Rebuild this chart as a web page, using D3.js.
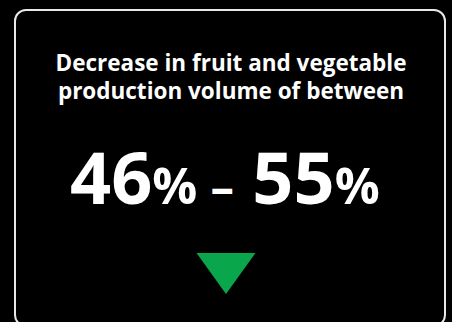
<!DOCTYPE html>
<html><head><meta charset="utf-8">
<script src="https://cdn.jsdelivr.net/npm/d3@7"></script>
<style>html,body{margin:0;padding:0;background:#000;}svg{display:block;}</style>
</head><body>
<script>
const titleLines = ["Decrease in fruit and vegetable", "production volume of between"];
const rangeValues = [46, 55];
const unit = "%";
const direction = ["down"];
const indicatorColor = "#0aa64b";

const W = 452, H = 322;
const svg = d3.select("body").append("svg").attr("width", W).attr("height", H);
svg.append("rect").attr("width", W).attr("height", H).attr("fill", "#000");
svg.append("rect").attr("x", 15).attr("y", 10).attr("width", 430).attr("height", 316)
  .attr("rx", 11).attr("fill", "#000").attr("stroke", "#e8e8e8").attr("stroke-width", 2);

const cx = 231;
svg.append("g").selectAll("text").data(titleLines).join("text")
  .attr("x", cx).attr("y", (d, i) => 71 + i * 28)
  .attr("text-anchor", "middle").attr("fill", "#fff")
  .attr("font-family", "'Open Sans', sans-serif").attr("font-weight", 700)
  .attr("font-size", 22.5).text(d => d);

const big = svg.append("text").attr("x", 70).attr("y", 204).attr("text-anchor", "start")
  .attr("fill", "#fff").attr("font-family", "'Open Sans', sans-serif").attr("font-weight", 700);
rangeValues.forEach((v, i) => {
  if (i > 0) {
    big.append("tspan").attr("font-size", 47).attr("dx", 1).text(" \u2013");
    big.append("tspan").attr("font-size", 47).attr("dx", 6).text(" ");
  }
  big.append("tspan").attr("font-size", 72).text(v);
  big.append("tspan").attr("font-size", 50).text(unit);
});

// flattened triangle indicator (width 59, height 41)
const triW = 59, triH = 41;
const tri = {draw(ctx, size) {
  const s = Math.sqrt(size) / triW;
  const w = triW * s / 2, h = triH * s / 2;
  ctx.moveTo(-w, -h); ctx.lineTo(w, -h); ctx.lineTo(0, h); ctx.closePath();
}};
const sym = d3.symbol().type(tri).size(triW * triW);
svg.selectAll("path.ind").data(direction).join("path").attr("class", "ind")
  .attr("d", sym).attr("fill", indicatorColor)
  .attr("transform", d => `translate(226,273.5) rotate(${d === "down" ? 0 : 180})`);
</script>
</body></html>
